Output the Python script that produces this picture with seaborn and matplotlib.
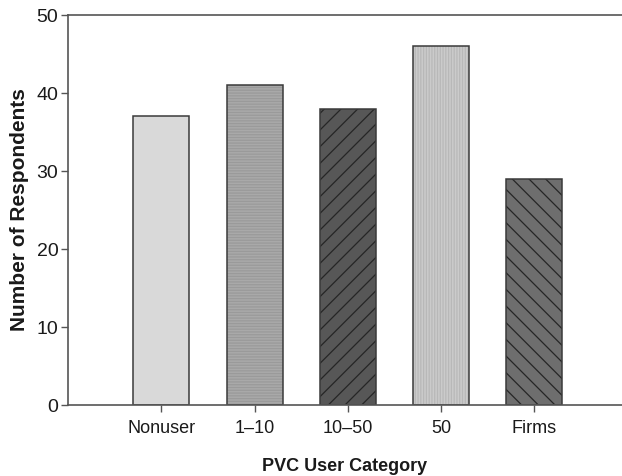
import matplotlib
matplotlib.use("Agg")
import matplotlib.pyplot as plt
import seaborn as sns
import pandas as pd

categories = ["Nonuser", "1\u201310", "10\u201350", "50", "Firms"]
values = [37, 41, 38, 46, 29]
fill_colors = ["#d9d9d9", "#a9a9a9", "#575757", "#cbcbcb", "#6e6e6e"]
hatches = ["", "------", "//", "||||||", "\\\\"]
hatch_colors = ["#d9d9d9", "#9a9a9a", "#262626", "#b8b8b8", "#262626"]
y_ticks = [0, 10, 20, 30, 40, 50]

sns.set_style("ticks")
plt.rcParams["font.family"] = ["Liberation Sans", "DejaVu Sans"]
plt.rcParams["hatch.linewidth"] = 0.9

df = pd.DataFrame({"cat": categories, "val": values})

fig = plt.figure(figsize=(6.22, 4.76), dpi=100)
ax = fig.add_axes([68 / 622, 71 / 476, 1 - 68 / 622, (405 - 15) / 476])

sns.barplot(data=df, x="cat", y="val", hue="cat", palette=fill_colors,
            width=0.6, linewidth=0, legend=False, ax=ax, saturation=1)
for p, h, hc in zip(ax.patches, hatches, hatch_colors):
    p.set_edgecolor(hc)
    p.set_linewidth(0)
    p.set_hatch(h)

sns.barplot(data=df, x="cat", y="val", fill=False, color="#3a3a3a",
            width=0.6, linewidth=1.1, ax=ax, saturation=1)

ax.set_xlim(-1.0, 4.94)
ax.set_ylim(0, 50)
ax.set_yticks(y_ticks)
ax.tick_params(axis="both", direction="out", length=5, width=1.0,
               color="#555555", labelcolor="#1a1a1a")
ax.tick_params(axis="x", labelsize=13, pad=6)
ax.tick_params(axis="y", labelsize=14, pad=2)
for s in ["left", "top", "bottom"]:
    ax.spines[s].set_color("#555555")
    ax.spines[s].set_linewidth(1.2)
ax.spines["right"].set_visible(False)

ax.set_xlabel("PVC User Category", fontsize=13, fontweight="bold",
              color="#1a1a1a", labelpad=15)
ax.set_ylabel("Number of Respondents", fontsize=15, fontweight="bold",
              color="#1a1a1a", labelpad=5)

fig.savefig("out.png", dpi=100)
